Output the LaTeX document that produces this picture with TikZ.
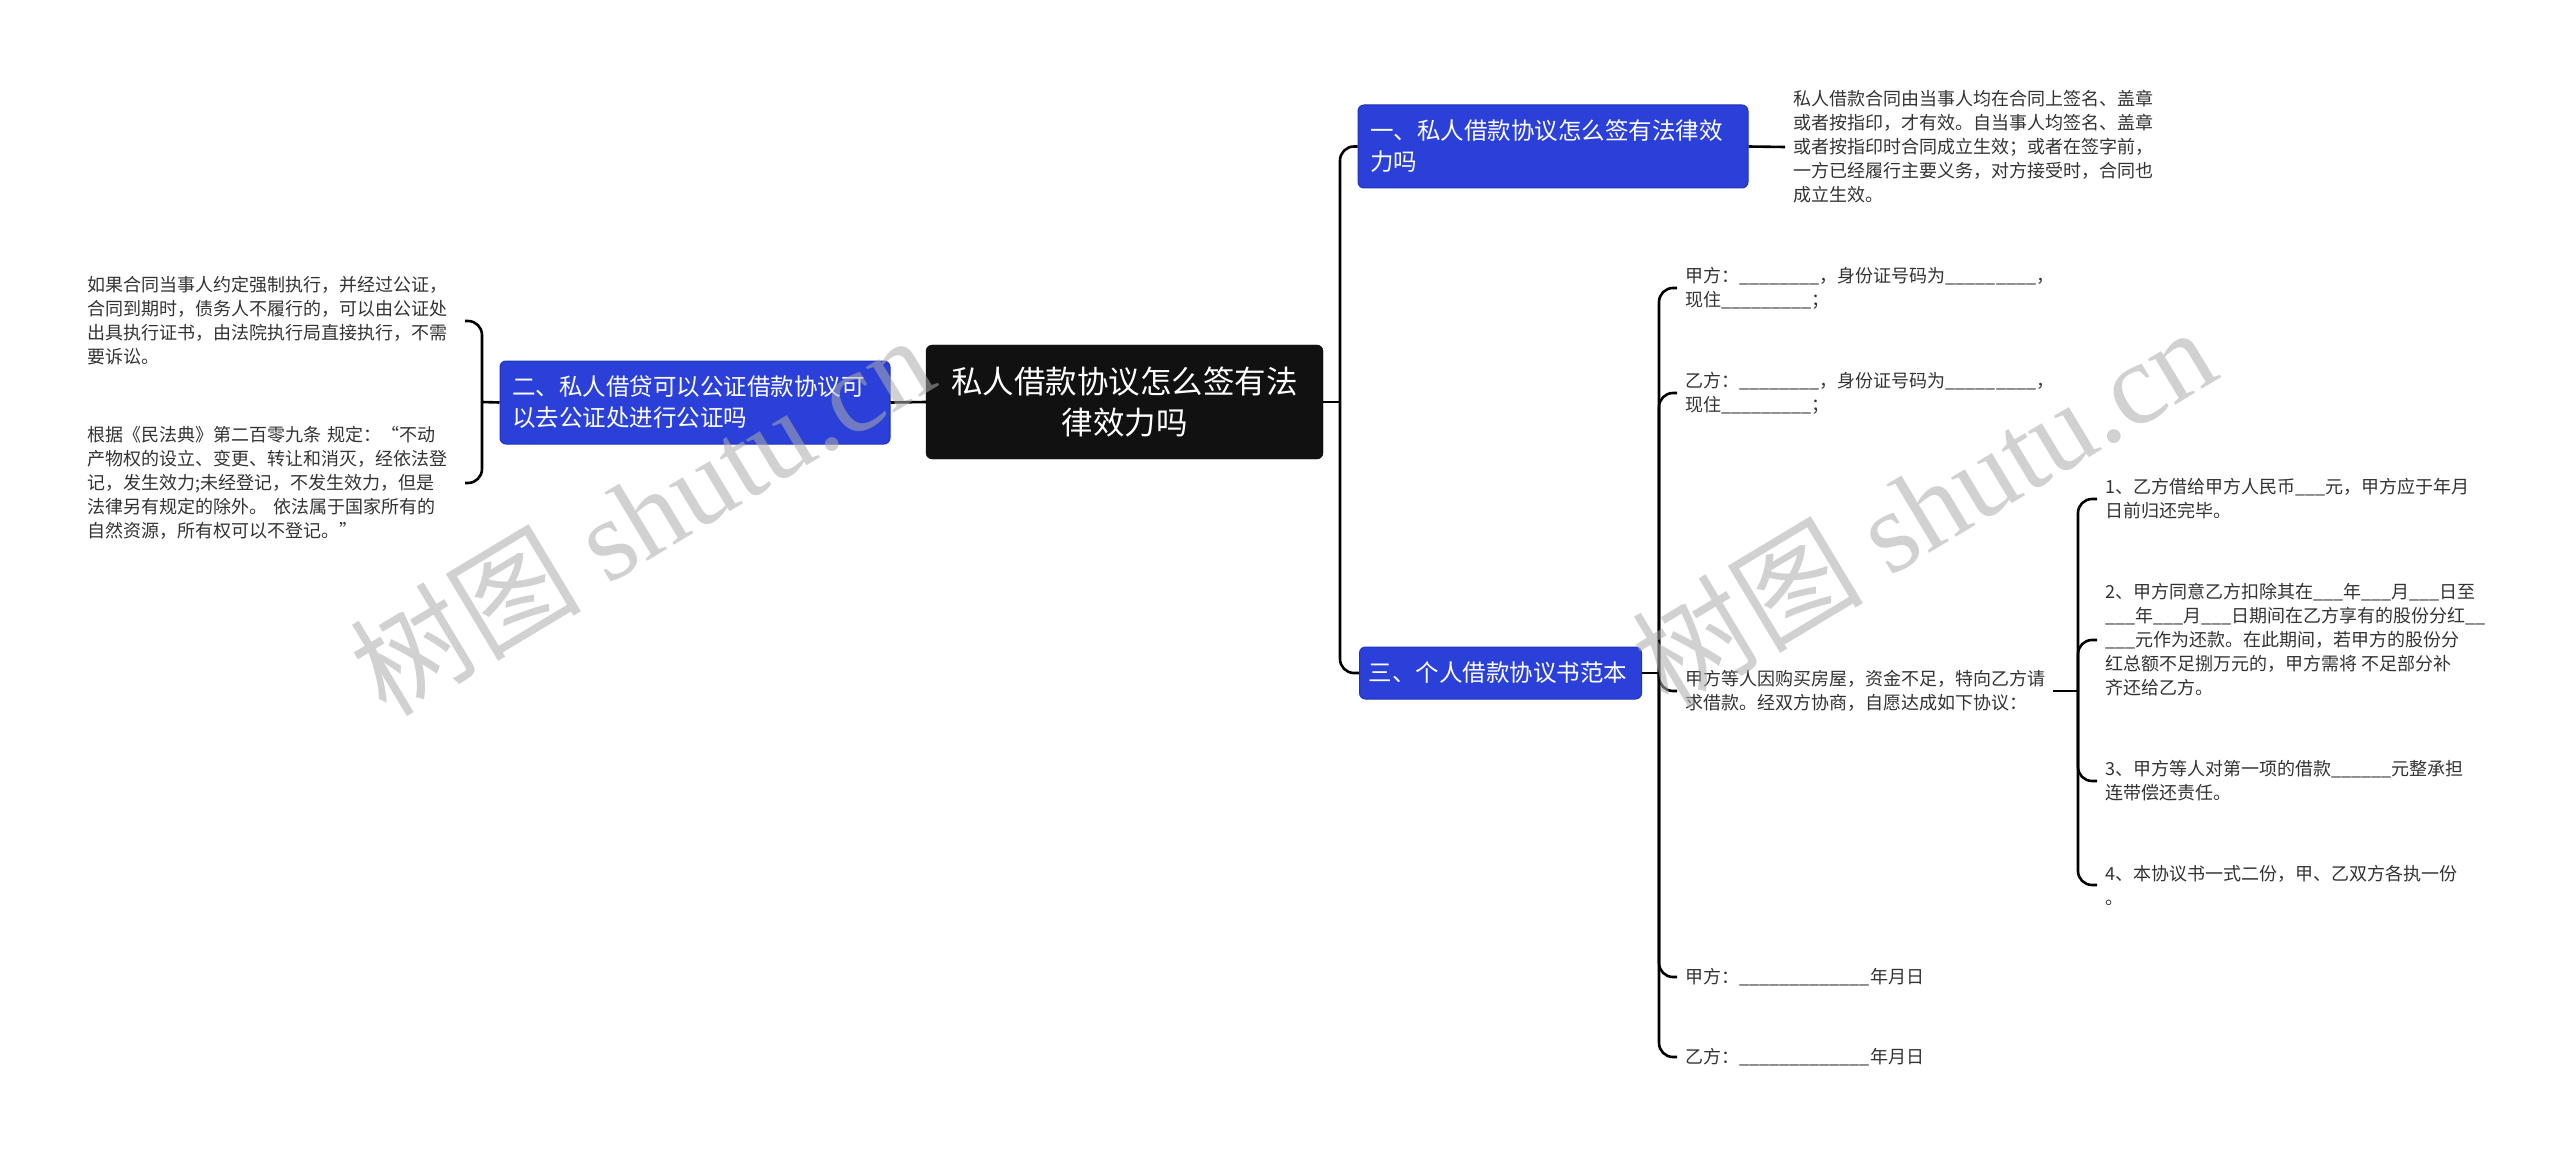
\documentclass[tikz,border=0pt]{standalone}
\usepackage{fontspec}
\setmainfont{Noto Sans CJK SC}
\newfontfamily\latinmark{Liberation Serif}
\XeTeXlinebreaklocale "zh"

\definecolor{topicblue}{HTML}{2B40D8}
\definecolor{topicedge}{HTML}{1F33B8}
\definecolor{rootfill}{HTML}{111111}
\definecolor{leaftext}{HTML}{333333}

\begin{document}
\begin{tikzpicture}[x=1pt, y=-1pt,
  root/.style={fill=rootfill, draw=rootfill, rounded corners=6pt, text=white,
    font=\fontsize{31.5}{41}\selectfont, align=center,
    minimum width=397pt, minimum height=114pt, inner sep=0pt},
  topic/.style={fill=topicblue, draw=topicedge, line width=1pt, rounded corners=6pt,
    text=white, font=\fontsize{23.5}{31}\selectfont, align=left,
    inner xsep=12pt, inner ysep=0pt, text width=366pt, minimum height=83pt},
  leaf/.style={text=leaftext, font=\fontsize{18}{24}\selectfont, align=left,
    inner xsep=8pt, inner ysep=2pt},
  link/.style={draw=black, line width=2.6pt},
  elbow/.style={link, rounded corners=14pt},
  stamp/.style={text=gray!65, text opacity=0.55, font=\fontsize{116}{116}\selectfont,
    rotate=31, inner sep=0pt}]

% Page
\useasboundingbox (0,0) rectangle (2560,1158);
\fill[white] (0,0) rectangle (2560,1158);

% Central topic and the three branches
\node[root] (root) at (1124.5,402) {私人借款协议怎么签有法\\律效力吗};
\node[topic] (t1) at (1553,146.5) {一、私人借款协议怎么签有法律效\\力吗};
\node[topic] (t2) at (695,402.5) {二、私人借贷可以公证借款协议可\\以去公证处进行公证吗};
\node[topic, anchor=west, inner xsep=9pt, text width=264pt, minimum height=52pt] (t3) at (1359,673) {三、个人借款协议书范本};

% Leaves of branch one and two
\node[leaf, anchor=west] (l1) at (1785,147) {私人借款合同由当事人均在合同上签名、盖章\\或者按指印，才有效。自当事人均签名、盖章\\或者按指印时合同成立生效；或者在签字前，\\一方已经履行主要义务，对方接受时，合同也\\成立生效。};
\node[leaf, anchor=east, text width=369pt] (l2a) at (465,321) {如果合同当事人约定强制执行，并经过公证，\\合同到期时，债务人不履行的，可以由公证处\\出具执行证书，由法院执行局直接执行，不需\\要诉讼。};
\node[leaf, anchor=east, text width=369pt] (l2b) at (465,483) {根据《民法典》第二百零九条 规定：“不动\\产物权的设立、变更、转让和消灭，经依法登\\记，发生效力;未经登记，不发生效力，但是\\法律另有规定的除外。 依法属于国家所有的\\自然资源，所有权可以不登记。”};

% Leaves of branch three
\node[leaf, anchor=west] (c1) at (1677,288) {甲方：\_\_\_\_\_\_\_\_，身份证号码为\_\_\_\_\_\_\_\_\_，\\现住\_\_\_\_\_\_\_\_\_；};
\node[leaf, anchor=west] (c2) at (1677,393) {乙方：\_\_\_\_\_\_\_\_，身份证号码为\_\_\_\_\_\_\_\_\_，\\现住\_\_\_\_\_\_\_\_\_；};
\node[leaf, anchor=west] (c3) at (1677,691) {甲方等人因购买房屋，资金不足，特向乙方请\\求借款。经双方协商，自愿达成如下协议：};
\node[leaf, anchor=west] (c4) at (1677,977) {甲方：\_\_\_\_\_\_\_\_\_\_\_\_\_年月日};
\node[leaf, anchor=west] (c5) at (1677,1057) {乙方：\_\_\_\_\_\_\_\_\_\_\_\_\_年月日};

% Clauses of the agreement
\node[leaf, anchor=west] (d1) at (2097,499) {1、乙方借给甲方人民币\_\_\_元，甲方应于年月\\日前归还完毕。};
\node[leaf, anchor=west] (d2) at (2097,640) {2、甲方同意乙方扣除其在\_\_\_年\_\_\_月\_\_\_日至\\\_\_\_年\_\_\_月\_\_\_日期间在乙方享有的股份分红\_\_\\\_\_\_元作为还款。在此期间，若甲方的股份分\\红总额不足捌万元的，甲方需将 不足部分补\\齐还给乙方。};
\node[leaf, anchor=west] (d3) at (2097,781) {3、甲方等人对第一项的借款\_\_\_\_\_\_元整承担\\连带偿还责任。};
\node[leaf, anchor=west] (d4) at (2097,885) {4、本协议书一式二份，甲、乙双方各执一份\\。};

% Junctions of the brackets
\coordinate (hubR) at (1340,402);
\coordinate (hubL) at (482,402);
\coordinate (hub3) at (1659,673);
\coordinate (hubC) at (2078,691);

% Connectors
\draw[link] (root.west) -- (t2.east);
\draw[link] (root.east) -- (hubR);
\draw[elbow] (hubR) |- (t1.west);
\draw[elbow] (hubR) |- (t3.west);
\draw[link] (t1.east) -- (l1.west);
\draw[link] (t2.west) -- (hubL);
\foreach \n in {l2a,l2b} \draw[elbow] (hubL) |- (\n.east);
\draw[link] (t3.east) -- (hub3);
\foreach \n in {c1,c2,c3,c4,c5} \draw[elbow] (hub3) |- (\n.west);
\draw[link] (c3.east) -- (hubC);
\foreach \n in {d1,d2,d3,d4} \draw[elbow] (hubC) |- (\n.west);

% Watermarks
\node[stamp] (wm1) at (641,514) {树图 {\latinmark shutu.cn}};
\node[stamp] (wm2) at (1923,506) {树图 {\latinmark shutu.cn}};

\end{tikzpicture}
\end{document}
